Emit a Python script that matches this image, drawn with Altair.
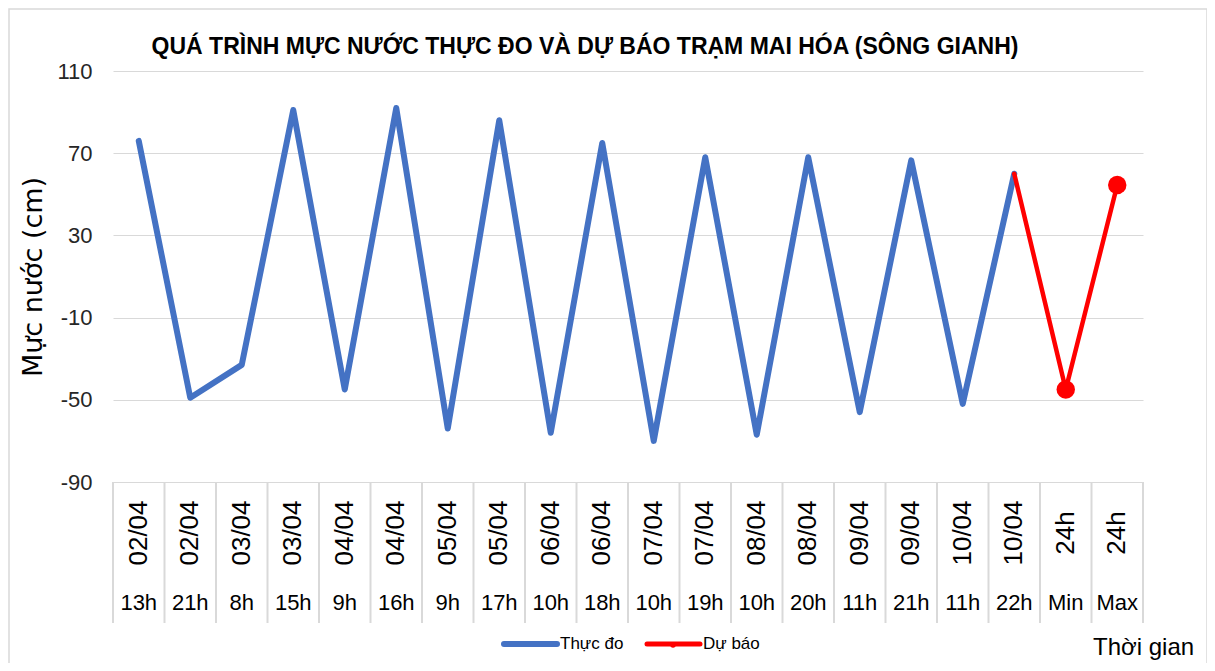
import altair as alt
import pandas as pd

# ---- data ----
dates = ["02/04", "02/04", "03/04", "03/04", "04/04", "04/04", "05/04", "05/04",
         "06/04", "06/04", "07/04", "07/04", "08/04", "08/04", "09/04", "09/04",
         "10/04", "10/04", "24h", "24h"]
hours = ["13h", "21h", "8h", "15h", "9h", "16h", "9h", "17h", "10h", "18h",
         "10h", "19h", "10h", "20h", "11h", "21h", "11h", "22h", "Min", "Max"]
observed = [76, -49, -33, 91, -45, 92, -64, 86, -66, 75, -70, 68, -67, 68,
            -56, 66.5, -52, 60]
forecast_idx = [17, 18, 19]
forecast = [60, -45, 54.5]
y_ticks = [-90, -50, -10, 30, 70, 110]

title_text = "QUÁ TRÌNH MỰC NƯỚC THỰC ĐO VÀ DỰ BÁO TRẠM MAI HÓA (SÔNG GIANH)"
y_title = "Mực nước (cm)"
x_title = "Thời gian"
legend_obs = "Thực đo"
legend_fc = "Dự báo"

FONT = "Liberation Sans"
BLUE = "#4472C4"
RED = "#FF0000"
GRID = "#d9d9d9"

n = len(dates)
cats = pd.DataFrame({"idx": list(range(n)), "date": dates, "hour": hours})
cats["pos"] = cats["idx"] + 0.5
obs_df = pd.DataFrame({"idx": list(range(len(observed))), "value": observed})
obs_df["pos"] = obs_df["idx"] + 0.5
fc_df = pd.DataFrame({"idx": forecast_idx, "value": forecast})
fc_df["pos"] = fc_df["idx"] + 0.5
bounds = pd.DataFrame({"b": list(range(n + 1))})
one = pd.DataFrame({"k": [0]})

grid_vals = [i * 0.5 for i in range(2 * n + 1)]

x_enc = alt.X("pos:Q",
              scale=alt.Scale(domain=[0, n], nice=False, zero=False),
              axis=alt.Axis(values=grid_vals, labels=False, ticks=False,
                            domain=False, grid=True, gridColor=GRID,
                            gridWidth=1, title=None))
y_enc = alt.Y("value:Q",
              scale=alt.Scale(domain=[-90, 110], nice=False, zero=False),
              axis=alt.Axis(values=y_ticks, ticks=False, domain=False,
                            grid=True, gridColor=GRID, gridWidth=1,
                            labelExpr="datum.value + ''",
                            labelFont=FONT, labelFontSize=22,
                            labelColor="#262626", labelPadding=21,
                            title=y_title, titleFont="DejaVu Sans",
                            titleFontSize=27, titleFontWeight="normal",
                            titleColor="#000000", titlePadding=9))

obs_line = alt.Chart(obs_df).mark_line(
    color=BLUE, strokeWidth=6, strokeCap="round", strokeJoin="round"
).encode(x=x_enc, y=y_enc)

fc_line = alt.Chart(fc_df).mark_line(
    color=RED, strokeWidth=4.5, strokeCap="round", strokeJoin="round"
).encode(x=x_enc, y=y_enc)

fc_pts = alt.Chart(fc_df).transform_filter(alt.datum.idx >= 18).mark_circle(
    color=RED, size=340, opacity=1
).encode(x=x_enc, y=y_enc)

# category table under the plot
seps = alt.Chart(bounds).mark_rule(color=GRID, strokeWidth=2).encode(
    x=alt.X("b:Q", scale=alt.Scale(domain=[0, n], nice=False, zero=False), axis=None),
    y=alt.value(411), y2=alt.value(552))

date_txt = alt.Chart(cats).mark_text(
    angle=270, font=FONT, fontSize=26, color="#000000",
    align="center", baseline="middle"
).encode(x=alt.X("pos:Q", axis=None), y=alt.value(462), text="date:N")

hour_txt = alt.Chart(cats).mark_text(
    font=FONT, fontSize=22, color="#000000", align="center", baseline="middle"
).encode(x=alt.X("pos:Q", axis=None), y=alt.value(532), text="hour:N")

# title
title_mark = alt.Chart(one).mark_text(
    text=title_text, font=FONT, fontSize=23, fontWeight="bold",
    color="#000000", align="center", baseline="middle"
).encode(x=alt.value(472), y=alt.value(-24))

# x title
xt_mark = alt.Chart(one).mark_text(
    text=x_title, font=FONT, fontSize=24, color="#000000",
    align="left", baseline="middle"
).encode(x=alt.value(980), y=alt.value(577))

# legend
leg_obs_line = alt.Chart(one).mark_rule(color=BLUE, strokeWidth=6, strokeCap="round").encode(
    x=alt.value(391), x2=alt.value(444), y=alt.value(573))
leg_obs_txt = alt.Chart(one).mark_text(
    text=legend_obs, font=FONT, fontSize=17, color="#000000",
    align="left", baseline="middle").encode(x=alt.value(447), y=alt.value(573))
leg_fc_line = alt.Chart(one).mark_rule(color=RED, strokeWidth=5, strokeCap="round").encode(
    x=alt.value(534), x2=alt.value(587), y=alt.value(573))
leg_fc_pt = alt.Chart(one).mark_circle(color=RED, size=30, opacity=1).encode(
    x=alt.value(560), y=alt.value(574))
leg_fc_txt = alt.Chart(one).mark_text(
    text=legend_fc, font=FONT, fontSize=17, color="#000000",
    align="left", baseline="middle").encode(x=alt.value(590), y=alt.value(573))

# outer frame
frame = alt.Chart(one).mark_rect(
    fillOpacity=0, stroke=GRID, strokeWidth=1.5
).encode(x=alt.value(-104), x2=alt.value(1094), y=alt.value(-62), y2=alt.value(620))

chart = alt.layer(
    frame, obs_line, fc_line, fc_pts, seps, date_txt, hour_txt,
    title_mark, xt_mark, leg_obs_line, leg_obs_txt, leg_fc_line, leg_fc_pt, leg_fc_txt
).resolve_scale(x="shared").properties(
    width=1030, height=411,
    padding={"left": 105, "top": 63, "right": 64, "bottom": 181},
    autosize=alt.AutoSizeParams(type="none"),
    background="white"
).configure_view(stroke=None)

chart.save("out.html", embed_options={"renderer": "svg", "actions": False})
